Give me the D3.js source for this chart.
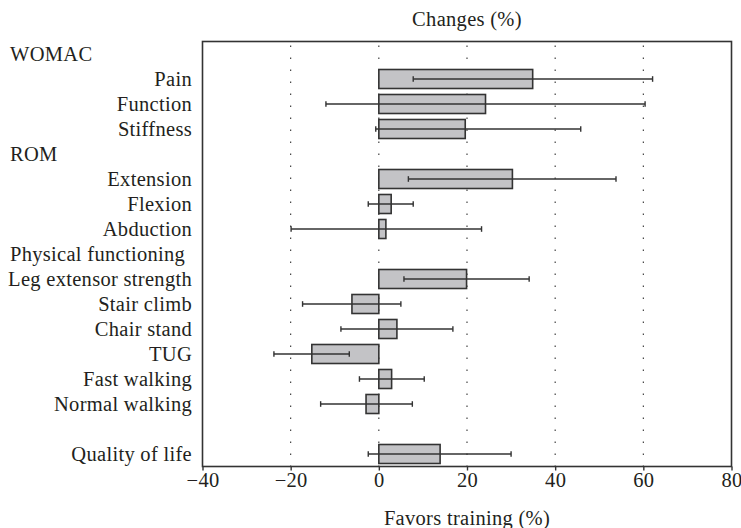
<!DOCTYPE html>
<html>
<head>
<meta charset="utf-8">
<script src="https://cdn.jsdelivr.net/npm/d3@7"></script>
<style>
  body { margin: 0; background: #fff; }
  text { font-family: "Liberation Serif", "Times New Roman", serif; fill: #231f20; letter-spacing: 0.3px; }
</style>
</head>
<body>
<svg id="chart" width="741" height="528"></svg>
<script>
// Rows (top to bottom); headers have no value
const rows = ["WOMAC", "Pain", "Function", "Stiffness", "ROM", "Extension", "Flexion", "Abduction",
  "Physical functioning", "Leg extensor strength", "Stair climb", "Chair stand", "TUG",
  "Fast walking", "Normal walking", "", "Quality of life"];
const headers = ["WOMAC", "ROM", "Physical functioning"];
const items = ["Pain", "Function", "Stiffness", "Extension", "Flexion", "Abduction",
  "Leg extensor strength", "Stair climb", "Chair stand", "TUG", "Fast walking", "Normal walking", "Quality of life"];
const means = [34.9, 24.2, 19.6, 30.3, 2.8, 1.6, 19.9, -6.1, 4.1, -15.2, 2.9, -2.9, 13.9];
const lower = [7.8, -12.0, -0.7, 6.7, -2.4, -19.9, 5.7, -17.3, -8.6, -23.8, -4.4, -13.2, -2.4];
const upper = [62.1, 60.4, 45.8, 53.8, 7.8, 23.3, 34.1, 5.0, 16.8, -6.7, 10.3, 7.6, 30.0];
const xTicks = [-40, -20, 0, 20, 40, 60, 80];
const gridTicks = [-20, 0, 20, 40, 60];
const topTitle = "Changes (%)";
const bottomTitle = "Favors training (%)";

const svg = d3.select("#chart");
const mLeft = 202.5, mRight = 731.5, mTop = 41.5, mBottom = 466.5;
const fs = "20.5px";

const x = d3.scaleLinear().domain([-40, 80]).range([mLeft, mRight]);
const y = d3.scaleBand().domain(rows.map((d, i) => i)).range([mTop, mBottom]).padding(0);
const rowIndex = name => rows.indexOf(name);
const barH = 19;

// grid (dotted)
svg.append("g").selectAll("line").data(gridTicks).join("line")
  .attr("x1", d => x(d)).attr("x2", d => x(d))
  .attr("y1", mTop + 4).attr("y2", mBottom)
  .attr("stroke", "#333").attr("stroke-width", 1.1)
  .attr("stroke-dasharray", "1.4,10.6");

// bars
const data = items.map((name, i) => ({ name, m: means[i], lo: lower[i], hi: upper[i] }));
const cy = d => y(rowIndex(d.name)) + y.bandwidth() / 2;

svg.append("g").selectAll("rect").data(data).join("rect")
  .attr("x", d => x(Math.min(0, d.m)))
  .attr("width", d => Math.abs(x(d.m) - x(0)))
  .attr("y", d => cy(d) - barH / 2)
  .attr("height", barH)
  .attr("fill", "#c3c3c6")
  .attr("stroke", "#333")
  .attr("stroke-width", 1.6);

// error bars
const eb = svg.append("g").attr("stroke", "#333").attr("stroke-width", 1.4);
eb.selectAll("line.ci").data(data).join("line").attr("class", "ci")
  .attr("x1", d => x(d.lo)).attr("x2", d => x(d.hi))
  .attr("y1", d => cy(d)).attr("y2", d => cy(d));
eb.selectAll("line.lo").data(data).join("line").attr("class", "lo")
  .attr("x1", d => x(d.lo)).attr("x2", d => x(d.lo))
  .attr("y1", d => cy(d) - 2.8).attr("y2", d => cy(d) + 2.8);
eb.selectAll("line.hi").data(data).join("line").attr("class", "hi")
  .attr("x1", d => x(d.hi)).attr("x2", d => x(d.hi))
  .attr("y1", d => cy(d) - 2.8).attr("y2", d => cy(d) + 2.8);

// frame
svg.append("rect").attr("x", mLeft).attr("y", mTop)
  .attr("width", mRight - mLeft).attr("height", mBottom - mTop)
  .attr("fill", "none").attr("stroke", "#333").attr("stroke-width", 1.6);

// bottom axis
const axis = d3.axisBottom(x).tickValues(xTicks).tickSize(4).tickSizeOuter(0)
  .tickFormat(d => d < 0 ? "\u2212" + Math.abs(d) : String(d));
const ga = svg.append("g").attr("transform", `translate(0,${mBottom})`).call(axis);
ga.select(".domain").remove();
ga.selectAll(".tick line").attr("stroke", "#333").attr("stroke-width", 1.4);
ga.selectAll(".tick text").attr("y", 6).attr("dy", "0.71em")
  .style("font-size", fs).style("font-family", "Liberation Serif, serif").attr("fill", "#231f20");

// row labels
svg.append("g").selectAll("text").data(rows.filter(r => r !== "")).join("text")
  .attr("x", d => headers.includes(d) ? 10 : 192)
  .attr("y", d => y(rowIndex(d)) + y.bandwidth() / 2)
  .attr("dy", "0.35em")
  .attr("text-anchor", d => headers.includes(d) ? "start" : "end")
  .style("font-size", fs)
  .text(d => d);

// titles
svg.append("text").attr("x", (mLeft + mRight) / 2).attr("y", 26)
  .attr("text-anchor", "middle").style("font-size", fs).text(topTitle);
svg.append("text").attr("x", (mLeft + mRight) / 2).attr("y", 525)
  .attr("text-anchor", "middle").style("font-size", fs).text(bottomTitle);
</script>
</body>
</html>
